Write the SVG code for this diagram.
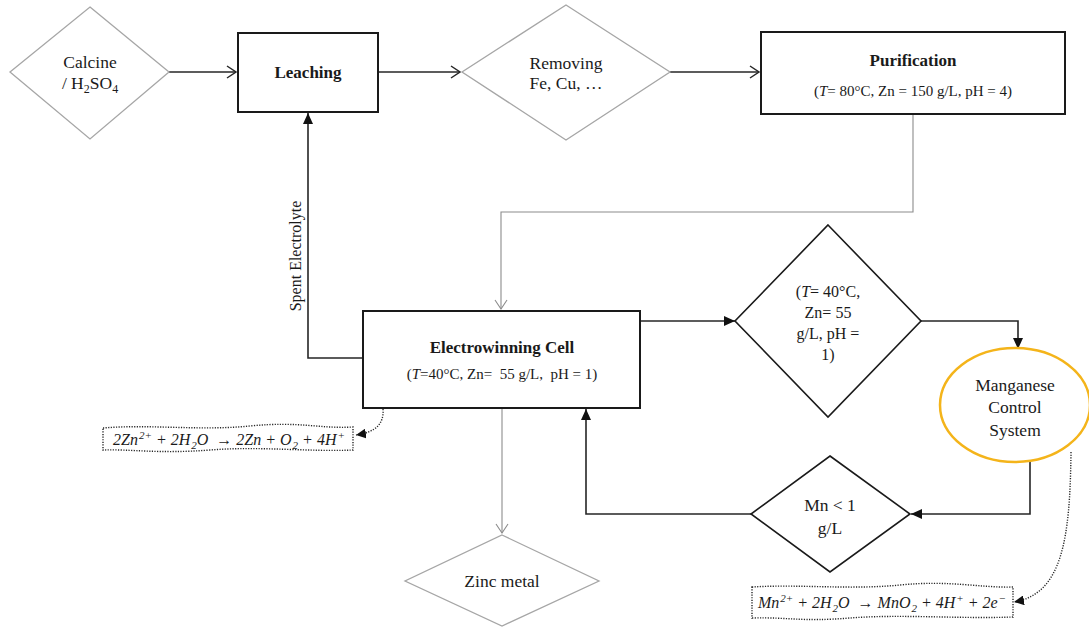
<svg xmlns="http://www.w3.org/2000/svg" width="1089" height="628" viewBox="0 0 1089 628">
<defs>
<style>
text{font-family:"Liberation Serif",serif}
.txt{fill:#1a1a1a;text-anchor:middle}
.b{font-weight:bold;font-size:17px}
.r{font-size:17.5px}
.s{font-size:15px}
.m{font-size:16px;font-style:italic}
.box{fill:#fff;stroke:#1a1a1a;stroke-width:2}
.gd{fill:#fff;stroke:#a6a6a6;stroke-width:1.3}
.bd{fill:#fff;stroke:#1a1a1a;stroke-width:1.6}
.ln{fill:none;stroke:#262626;stroke-width:1.6}
.gl{fill:none;stroke:#8c8c8c;stroke-width:1.1}
.dt{fill:none;stroke:#262626;stroke-width:1.4;stroke-dasharray:1.2 1.4}
</style>
<marker id="open" markerUnits="userSpaceOnUse" markerWidth="12" markerHeight="14" refX="10" refY="7" orient="auto">
<path d="M1,1 L10,7 L1,13" fill="none" stroke="#262626" stroke-width="1.5"/>
</marker>
<marker id="openg" markerUnits="userSpaceOnUse" markerWidth="12" markerHeight="14" refX="10" refY="7" orient="auto">
<path d="M1,1 L10,7 L1,13" fill="none" stroke="#8c8c8c" stroke-width="1.1"/>
</marker>
<marker id="fill" markerUnits="userSpaceOnUse" markerWidth="12" markerHeight="10" refX="11" refY="5" orient="auto">
<path d="M0,0 L11,5 L0,10 Z" fill="#111"/>
</marker>
<marker id="dotarrow" markerUnits="userSpaceOnUse" markerWidth="12" markerHeight="10" refX="10" refY="5" orient="auto">
<path d="M0,0 L10,5 L0,10 Z" fill="#111"/>
</marker>
</defs>
<rect width="1089" height="628" fill="#fff"/>

<g id="connectors" font-family="Liberation Serif, serif">
<line class="ln" x1="169" y1="72" x2="236" y2="72" marker-end="url(#open)"/>
<line class="ln" x1="378" y1="72" x2="460" y2="72" marker-end="url(#open)"/>
<line class="ln" x1="670" y1="72" x2="759" y2="72" marker-end="url(#open)"/>
<polyline class="gl" points="913,114 913,212 501,212 501,309" marker-end="url(#openg)"/>
<polyline class="ln" points="363,358 308,358 308,113" marker-end="url(#fill)"/>
<line class="ln" x1="640" y1="321" x2="735" y2="321" marker-end="url(#fill)"/>
<polyline class="ln" points="921,321 1018,321 1018,349" marker-end="url(#fill)"/>
<polyline class="ln" points="1030,462 1030,514 911,514" marker-end="url(#fill)"/>
<polyline class="ln" points="751,514 586,514 586,409" marker-end="url(#fill)"/>
<line class="gl" x1="502" y1="409" x2="502" y2="533" marker-end="url(#openg)"/>
<path class="dt" d="M383,409 C384,424 376,432 356,435" marker-end="url(#dotarrow)"/>
<path class="dt" d="M1071,452 C1070,540 1062,594 1014,602" marker-end="url(#dotarrow)"/>
<text class="txt" font-family="Liberation Serif, serif" style="font-size:16px" transform="translate(301,256) rotate(-90)">Spent Electrolyte</text>
</g>

<g id="calcine" font-family="Liberation Serif, serif">
<polygon class="gd" points="90,7 169,72 90,139 10,72"/>
<text class="txt r" x="90" y="68">Calcine</text>
<text class="txt r" x="90" y="89">/ H<tspan font-size="12" dy="4">2</tspan><tspan dy="-4">SO</tspan><tspan font-size="12" dy="4">4</tspan></text>
</g>

<g id="leaching" font-family="Liberation Serif, serif">
<rect class="box" x="238" y="33" width="140" height="79"/>
<text class="txt b" x="308" y="78">Leaching</text>
</g>

<g id="removing" font-family="Liberation Serif, serif">
<polygon class="gd" points="566,5 670,72 566,140 462,72"/>
<text class="txt r" x="566" y="69">Removing</text>
<text class="txt r" x="566" y="89">Fe, Cu, …</text>
</g>

<g id="purification" font-family="Liberation Serif, serif">
<rect class="box" x="761" y="32" width="304" height="82"/>
<text class="txt b" x="913" y="66">Purification</text>
<text class="txt s" x="913" y="96">(<tspan font-style="italic">T</tspan>= 80°C, Zn = 150 g/L, pH = 4)</text>
</g>

<g id="electrowinning" font-family="Liberation Serif, serif">
<rect class="box" x="363" y="311" width="277" height="97"/>
<text class="txt b" x="502" y="353">Electrowinning Cell</text>
<text class="txt s" x="502" y="379" xml:space="preserve">(<tspan font-style="italic">T</tspan>=40°C, Zn=  55 g/L,  pH = 1)</text>
</g>

<g id="condition" font-family="Liberation Serif, serif">
<polygon class="bd" points="828,225 921,321 828,417 735,321"/>
<text class="txt" style="font-size:16px" x="828" y="297">(<tspan font-style="italic">T</tspan>= 40°C,</text>
<text class="txt" style="font-size:16px" x="828" y="318">Zn= 55</text>
<text class="txt" style="font-size:16px" x="828" y="339">g/L, pH =</text>
<text class="txt" style="font-size:16px" x="828" y="360">1)</text>
</g>

<g id="manganese" font-family="Liberation Serif, serif">
<ellipse cx="1015" cy="405" rx="75" ry="57" fill="#fff" stroke="#F4B41A" stroke-width="2.5"/>
<text class="txt r" x="1015" y="391">Manganese</text>
<text class="txt r" x="1015" y="413">Control</text>
<text class="txt r" x="1015" y="436">System</text>
</g>

<g id="mnlimit" font-family="Liberation Serif, serif">
<polygon class="bd" points="830,456 910,514 830,572 751,514"/>
<text class="txt r" x="830" y="511">Mn &lt; 1</text>
<text class="txt r" x="830" y="534">g/L</text>
</g>

<g id="zinc" font-family="Liberation Serif, serif">
<polygon class="gd" points="502,535 599,581 502,626 405,581"/>
<text class="txt r" x="502" y="587">Zinc metal</text>
</g>

<g id="zn-reaction" font-family="Liberation Serif, serif">
<path class="dt" d="M103,428 C150,424 200,431 250,426 S320,429 353,427 L353,450 C310,452 260,446 210,450 S130,449 103,450 Z"/>
<text class="txt m" x="229" y="445" xml:space="preserve">2Zn<tspan font-size="11" dx="1" dy="-6">2+</tspan><tspan dy="6"> + 2H</tspan><tspan font-size="11" dx="1" dy="4">2</tspan><tspan dy="-4">O  → 2Zn + O</tspan><tspan font-size="11" dx="1" dy="4">2</tspan><tspan dy="-4"> + 4H</tspan><tspan font-size="11" dx="1" dy="-6">+</tspan></text>
</g>

<g id="mn-reaction" font-family="Liberation Serif, serif">
<path class="dt" d="M752,587 C800,584 850,590 900,585 S980,588 1013,587 L1013,617 C960,619 900,614 850,618 S790,617 752,618 Z"/>
<text class="txt m" x="882" y="608" xml:space="preserve">Mn<tspan font-size="11" dx="1" dy="-6">2+</tspan><tspan dy="6"> + 2H</tspan><tspan font-size="11" dx="1" dy="4">2</tspan><tspan dy="-4">O  → MnO</tspan><tspan font-size="11" dx="1" dy="4">2</tspan><tspan dy="-4"> + 4H</tspan><tspan font-size="11" dx="1" dy="-6">+</tspan><tspan dy="6"> + 2e</tspan><tspan font-size="11" dx="1" dy="-6">−</tspan></text>
</g>
</svg>
